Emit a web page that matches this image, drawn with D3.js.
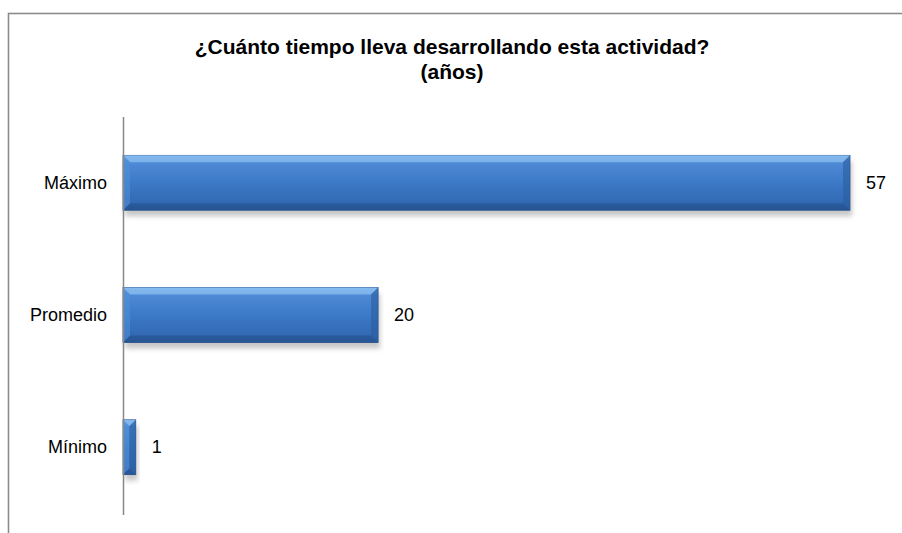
<!DOCTYPE html>
<html><head><meta charset="utf-8">
<script src="https://cdn.jsdelivr.net/npm/d3@7"></script>
<style>body{margin:0;background:#fff}svg{display:block}</style>
</head><body>
<svg id="c" width="902" height="533"></svg>
<script>
const categories = ["Máximo", "Promedio", "Mínimo"];
const values = [57, 20, 1];
const titleLines = ["¿Cuánto tiempo lleva desarrollando esta actividad?", "(años)"];

const svg = d3.select("#c");
const defs = svg.append("defs");
const g1 = defs.append("linearGradient").attr("id","barg").attr("x1",0).attr("y1",0).attr("x2",0).attr("y2",1);
[[0,"#6fa6e6"],[0.12,"#4f8ad6"],[0.5,"#3c79c6"],[0.9,"#3268b2"],[1,"#2b5b9e"]].forEach(([o,c])=>g1.append("stop").attr("offset",o).attr("stop-color",c));
const f = defs.append("filter").attr("id","sh").attr("x","-10%").attr("y","-50%").attr("width","120%").attr("height","200%");
f.append("feGaussianBlur").attr("stdDeviation",2.5);

svg.append("rect").attr("x",8.5).attr("y",13.5).attr("width",1000).attr("height",1000)
  .attr("fill","#fff").attr("stroke","#8c8c8c").attr("stroke-width",1.6);

const x = d3.scaleLinear().domain([0, 57]).range([123, 850]);
const y = d3.scaleBand().domain(categories).range([117, 513]).paddingInner(0.585).paddingOuter(0.29);

const font = "Liberation Sans, Arial, sans-serif";
svg.append("g").selectAll("text").data(titleLines).join("text")
  .attr("x", 452).attr("y",(d,i)=>54+i*25).attr("text-anchor","middle")
  .attr("font-family",font).attr("font-weight","bold").attr("font-size",21)
  .attr("fill","#000").text(d=>d);

const data = categories.map((c,i)=>({c, v: values[i]}));
const bars = svg.append("g");
bars.selectAll("rect.sh").data(data).join("rect").attr("class","sh")
  .attr("x", x(0)+2).attr("y", d=>y(d.c)+6).attr("width", d=>x(d.v)-x(0)).attr("height", y.bandwidth())
  .attr("fill","#999").attr("opacity",0.55).attr("filter","url(#sh)");
bars.selectAll("rect.b").data(data).join("rect").attr("class","b")
  .attr("x", x(0)).attr("y", d=>y(d.c)).attr("width", d=>x(d.v)-x(0)).attr("height", y.bandwidth())
  .attr("fill","url(#barg)").attr("stroke","#2a5590").attr("stroke-width",0.8);
data.forEach(d=>{
  const x0=x(0), x1=x(d.v), y0=y(d.c), y1=y0+y.bandwidth();
  const b=Math.min(7,(x1-x0)/2);
  const bv = bars.append("g");
  bv.append("polygon").attr("points",`${x0},${y0} ${x1},${y0} ${x1-b},${y0+b} ${x0+b},${y0+b}`).attr("fill","#8cc0f2").attr("opacity",0.75);
  bv.append("polygon").attr("points",`${x0},${y1} ${x1},${y1} ${x1-b},${y1-b} ${x0+b},${y1-b}`).attr("fill","#24508c").attr("opacity",0.6);
  bv.append("polygon").attr("points",`${x0},${y0} ${x0+b},${y0+b} ${x0+b},${y1-b} ${x0},${y1}`).attr("fill","#4f8fdc").attr("opacity",0.55);
  bv.append("polygon").attr("points",`${x1},${y0} ${x1-b},${y0+b} ${x1-b},${y1-b} ${x1},${y1}`).attr("fill","#2a5d9e").attr("opacity",0.6);
});

svg.append("line").attr("x1",123.5).attr("x2",123.5).attr("y1",117).attr("y2",515).attr("stroke","#888").attr("stroke-width",1.5);

svg.append("g").selectAll("text").data(data).join("text")
  .attr("x",107).attr("y",d=>y(d.c)+y.bandwidth()/2+6).attr("text-anchor","end")
  .attr("font-family",font).attr("font-size",18).text(d=>d.c);
svg.append("g").selectAll("text").data(data).join("text")
  .attr("x",d=>x(d.v)+16).attr("y",d=>y(d.c)+y.bandwidth()/2+6)
  .attr("font-family",font).attr("font-size",18).text(d=>d.v);
</script>
</body></html>
